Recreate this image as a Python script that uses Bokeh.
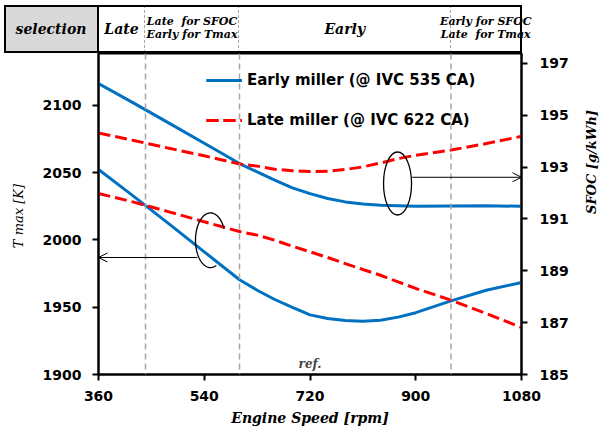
import numpy as np
from bokeh.plotting import figure
from bokeh.models import (Range1d, LinearAxis, FixedTicker, Legend, LegendItem,
                          Arrow, OpenHead, Span, Label, Div)
from bokeh.layouts import column
from bokeh.embed import file_html
from bokeh.resources import INLINE

# ---------------- data ----------------
rpm = [360, 420, 480, 540, 600, 630, 660, 690, 720, 750, 780, 810, 840,
       870, 900, 960, 1020, 1080]
tmax_early = [2052.2, 2032.3, 2011.9, 1991.1, 1970.4, 1962.6, 1955.7, 1949.8,
              1944.3, 1941.6, 1940.1, 1939.6, 1940.3, 1942.6, 1945.9, 1954.7,
              1962.6, 1968.3]
tmax_late = [2034.4, 2028.0, 2020.8, 2013.4, 2006.2, 2003.5, 1999.7, 1995.3,
             1991.1, 1986.9, 1982.4, 1978.0, 1973.7, 1968.8, 1963.9, 1955.2,
             1945.3, 1934.9]
sfoc_early = [196.23, 195.47, 194.70, 193.92, 193.14, 192.82, 192.50, 192.20,
              191.98, 191.79, 191.66, 191.58, 191.53, 191.51, 191.49, 191.50,
              191.51, 191.49]
sfoc_late = [194.32, 194.03, 193.73, 193.44, 193.12, 193.04, 192.92, 192.86,
             192.83, 192.84, 192.91, 193.01, 193.16, 193.33, 193.46, 193.66,
             193.91, 194.19]

x_ticks = [360, 540, 720, 900, 1080]
tmax_ticks = [1900, 1950, 2000, 2050, 2100]
sfoc_ticks = [185, 187, 189, 191, 193, 195, 197]

zone_edges = [360, 440, 600, 960, 1080]
zone_labels = ["Late", "Late&nbsp; for SFOC<br>Early for Tmax", "Early",
               "Early for SFOC<br>Late&nbsp; for Tmax"]
zone_font_px = [14, 11, 14, 11]
selection_label = "selection"
series_names = ["Early miller (@ IVC 535 CA)", "Late miller (@ IVC 622 CA)"]

# ---------------- layout / style ----------------
W, H = 609, 432
H_HEAD = 53
H_MAIN = H - H_HEAD
LEFT, RIGHT, BOTTOM = 98, 88, 58
FRAME_W = W - LEFT - RIGHT
FRAME_H = H_MAIN - BOTTOM
px_per_rpm = FRAME_W / (x_ticks[-1] - x_ticks[0])
px_per_K = 1.3465          # from tick spacing (50 K ~ 67.3 px)
px_per_g = 25.917          # from tick spacing (2 g/kWh ~ 51.8 px)
T_top = 1900 + FRAME_H / px_per_K
S_top = 185 + FRAME_H / px_per_g
BLUE = "#0070C0"
RED = "#FF0000"
GRAY = "#a6a6a6"
SERIF = "DejaVu Serif"
SANS = "DejaVu Sans"


def px(r):
    return LEFT + (r - x_ticks[0]) * px_per_rpm


# ---------------- header strip (zone table) ----------------
top, hh = 5, H_HEAD - 5
x_left = 4
x_right = px(zone_edges[-1]) + 1
parts = [f'<div style="position:relative;width:{W}px;height:{H_HEAD}px;'
         f"font-family:'{SERIF}';font-weight:bold;font-style:italic;"
         f'color:black;line-height:1.15;">']
parts.append(f'<div style="position:absolute;left:{x_left}px;top:{top}px;'
             f'width:{LEFT - x_left}px;height:{hh}px;background:#d9d9d9;"></div>')
for v in zone_edges[1:-1]:
    parts.append(f'<div style="position:absolute;left:{px(v) - 0.75:.2f}px;'
                 f'top:{top}px;width:0;height:{hh}px;'
                 f'border-left:1.5px dashed {GRAY};"></div>')
parts.append(f'<div style="position:absolute;left:{x_left}px;top:{top}px;'
             f'width:{x_right - x_left:.2f}px;height:{hh}px;box-sizing:border-box;'
             f'border:2px solid black;"></div>')
parts.append(f'<div style="position:absolute;left:{LEFT - 1}px;top:{top}px;'
             f'width:2px;height:{hh}px;background:black;"></div>')
cells = [(x_left, LEFT, selection_label, 14)]
for a, b, lab, fs in zip(zone_edges[:-1], zone_edges[1:], zone_labels, zone_font_px):
    cells.append((px(a), px(b), lab, fs))
for a, b, lab, fs in cells:
    parts.append(f'<div style="position:absolute;left:{a:.2f}px;top:{top}px;'
                 f'width:{b - a:.2f}px;height:{hh}px;display:flex;'
                 f'align-items:center;justify-content:center;text-align:center;'
                 f'white-space:nowrap;font-size:{fs}px;">{lab}</div>')
parts.append("</div>")
header = Div(text="".join(parts), width=W, height=H_HEAD, margin=0)

# ---------------- main chart ----------------
p = figure(width=W, height=H_MAIN, x_range=Range1d(x_ticks[0], x_ticks[-1]),
           y_range=Range1d(1900, T_top), toolbar_location=None,
           output_backend="svg", min_border_left=LEFT, min_border_right=RIGHT,
           min_border_top=0, min_border_bottom=BOTTOM,
           outline_line_color="black", outline_line_width=2, margin=0)
p.extra_y_ranges = {"sfoc": Range1d(185, S_top)}
p.grid.visible = False

for v in zone_edges[1:-1]:
    p.add_layout(Span(location=v, dimension="height", line_color=GRAY,
                      line_dash="6 4", line_width=1.5))

r_te = p.line(rpm, tmax_early, line_color=BLUE, line_width=3)
r_tl = p.line(rpm, tmax_late, line_color=RED, line_width=3, line_dash="12 5")
r_se = p.line(rpm, sfoc_early, line_color=BLUE, line_width=3, y_range_name="sfoc")
r_sl = p.line(rpm, sfoc_late, line_color=RED, line_width=3, line_dash="12 5",
              y_range_name="sfoc")

# grouping marks (ellipse for SFOC pair, open arc for Tmax pair) and arrows
p.ellipse(x=[869], y=[192.37], width=28, height=63, width_units="screen",
          height_units="screen", fill_color=None, line_color="black",
          line_width=1.3, y_range_name="sfoc")
th = np.radians(np.linspace(25, 293, 80))
arc_cx, arc_cy, arc_rx, arc_ry = 550.6, 1999.7, 25.5, 20.3
p.line(arc_cx + arc_rx * np.cos(th), arc_cy + arc_ry * np.sin(th),
       line_color="black", line_width=1.3)
p.add_layout(Arrow(end=OpenHead(size=9, line_width=1, line_color="black"),
                   x_start=528, y_start=1986.9, x_end=360, y_end=1986.9,
                   line_width=1, line_color="black"))
p.add_layout(Arrow(end=OpenHead(size=9, line_width=1, line_color="black"),
                   x_start=894, y_start=192.61, x_end=1080, y_end=192.61,
                   line_width=1, line_color="black", y_range_name="sfoc"))

p.add_layout(Label(x=720, y=1908, text="ref.", text_align="center",
                   text_baseline="middle", text_font=SERIF,
                   text_font_style="bold italic", text_font_size="12px"))

# ---------------- axes ----------------
p.xaxis.ticker = FixedTicker(ticks=x_ticks)
p.yaxis.ticker = FixedTicker(ticks=tmax_ticks)
p.xaxis.axis_label = "Engine Speed [rpm]"
p.yaxis.axis_label = "T max  [K]"
right = LinearAxis(y_range_name="sfoc", ticker=FixedTicker(ticks=sfoc_ticks))
p.add_layout(right, "right")
for ax in p.axis:
    ax.axis_line_width = 2
    ax.axis_line_color = "black"
    ax.major_tick_line_width = 2
    ax.major_tick_in = 0
    ax.major_tick_out = 6
    ax.minor_tick_line_color = None
    ax.major_label_text_font = SANS
    ax.major_label_text_font_style = "bold"
    ax.major_label_text_font_size = "14px"
    ax.major_label_text_color = "black"
    ax.axis_label_text_font = SERIF
    ax.axis_label_text_font_style = "bold italic"
    ax.axis_label_text_font_size = "14px"
    ax.axis_label_text_color = "black"
p.xaxis.major_label_standoff = 10
p.xaxis.axis_label_standoff = 6
p.yaxis[0].major_label_standoff = 11
p.yaxis[0].axis_label_standoff = 14
p.yaxis[0].axis_label_text_font_style = "italic"
p.yaxis[0].axis_label_text_font_size = "13px"
right.major_label_standoff = 12
right.axis_label_text_font_size = "13px"
if "axis_label_orientation" in right.properties():
    right.axis_label = "SFOC  [g/kWh]"
    right.axis_label_standoff = 20
    right.axis_label_orientation = np.pi / 2

legend = Legend(items=[LegendItem(label=series_names[0], renderers=[r_te, r_se]),
                       LegendItem(label=series_names[1], renderers=[r_tl, r_sl])],
                location=(108, 244), orientation="vertical", padding=0, margin=0,
                spacing=20, label_height=20, glyph_height=20, glyph_width=36,
                label_standoff=5, border_line_color=None,
                background_fill_alpha=0, label_text_font=SANS,
                label_text_font_style="bold", label_text_font_size="15px",
                label_text_color="black")
p.add_layout(legend, "center")

layout = column(header, p, spacing=0)
open("out.html", "w").write(file_html(layout, INLINE))
